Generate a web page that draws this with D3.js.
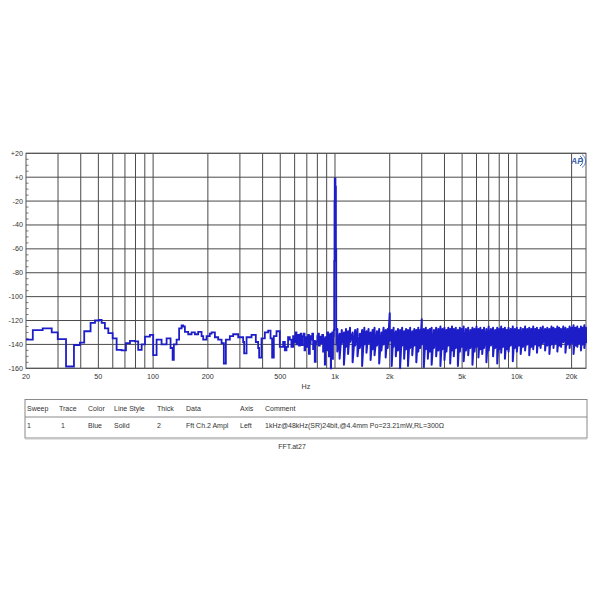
<!DOCTYPE html>
<html><head><meta charset="utf-8">
<script src="https://cdn.jsdelivr.net/npm/d3@7/dist/d3.min.js"></script>
<style>body{margin:0;background:#fff}svg{display:block}</style>
</head><body><svg id="c" width="600" height="600"></svg>
<script>
// ---- data ----
const yTicks = [20, 0, -20, -40, -60, -80, -100, -120, -140, -160];
const yTickLabels = ["+20", "+0", "-20", "-40", "-60", "-80", "-100", "-120", "-140", "-160"];
const yMinorTicks = [15,10,5,-5,-10,-15,-25,-30,-35,-45,-50,-55,-65,-70,-75,-85,-90,-95,-105,-110,-115,-125,-130,-135,-145,-150,-155];
const xLabelFreqs = [20, 50, 100, 200, 500, 1000, 2000, 5000, 10000, 20000];
const xLabels = ["20", "50", "100", "200", "500", "1k", "2k", "5k", "10k", "20k"];
const gridFreqs = [30,40,50,60,70,80,90,100,200,300,400,500,600,700,800,900,1000,2000,3000,4000,5000,6000,7000,8000,9000,10000,20000];

// low / mid band (stepped FFT bins): [Hz, dB]
const stepBins = [
  [20,-136],[21.8,-128],[24.7,-126.5],[27.7,-130],[29.9,-135.5],[33.2,-158.5],[36.7,-140.5],[39.6,-138.5],[41.8,-129],[45.3,-122],
  [47.9,-120],[50.5,-119.5],[52.1,-122],[54.3,-126.5],[56.7,-130.5],[59.9,-135],[63,-144.5],[67.1,-145],[70.9,-139],[74.6,-137],
  [79.4,-137.5],[82.8,-144.5],[86.5,-140],[90.2,-133.5],[96,-132],[100.1,-149],[104.5,-136],[111.3,-140],[118.6,-135],
  [124.7,-143],[128,-153],[130,-140],[134.6,-136],[139,-126.5],[143.4,-124],[146.3,-125],[149.5,-129.5],[155.9,-131.5],[162.7,-130],
  [169.7,-131.5],[176.9,-129.5],[184.7,-133],[188.5,-136],[196.8,-133],[205,-131],[209.6,-130],[218.6,-134],[227.9,-136],[237.9,-139],
  [244.8,-156],[251.2,-136],[264.2,-133],[275.4,-131.5],[293.6,-134],[312.6,-138],[316.6,-147.5],[326.4,-134],[347.6,-132],[367,-138],
  [378,-143],[382.8,-151],[394.4,-135],[411.4,-130],[429,-128.5],[442.2,-135],[451.2,-151],[461,-133],[477,-129],[497.2,-142],
  [518.6,-138],[530,-145],[541.2,-142],[552,-134],[564.4,-136],[576,-142],[588.4,-133],[595,-138],[601,-135],[608,-130],
  [614,-140],[620,-134],[627,-132],[634,-141],[641,-137],[647,-131],[654,-140.5],[664,-133],[674,-131],[680,-145],
  [685,-138],[691,-134],[697,-142],[704,-135],[711,-132],[719,-148],[727,-139],[735,-133],[743,-136],[750,-131],
  [758,-144],[766,-137],[774,-154.5],[783,-140],[791,-137.5],[800,-133],[808,-131],[816,-141],[825,-133.5],[833,-136],
  [842,-139],[851,-132],[860,-146],[870,-135],[879,-157],[885,-134],[890,-138],[898,-137.5],[903,-145],[907,-130],
  [916,-132],[921,-141],[926,-150],[931,-135],[936,-143],[942,-131],[948,-160],[952,-138],[957,-136],[962,-144],
  [966,-130],[970,-152],[975,-140],[980,-133],[985,-128],[990,-70],[994,-20],[997,-1],[1006,-8],[1012,-60],[1016,-128]
];

// dense band above 1 kHz: per display column, upper and lower excursion (dB)
const denseFreqs = [1020,1030,1060,1090,1120,1150,1180,1210,1250,1290,1330,1370,1410,1450,1490,1530,1570,1610,1650,1700,1750,1800,1850,1900,1950,2000,2050,2100,2160,2220,2280,2340,2400,2460,2520,2590,2660,2730,2800,2870,2940,3000,3080,3160,3240,3320,3400,3500,3600,3700,3800,3900,4000,4100,4200,4300,4400,4500,4620,4740,4860,4980,5100,5250,5400,5550,5700,5850,6000,6150,6300,6450,6600,6800,7000,7200,7400,7600,7800,8000,8200,8400,8600,8800,9000,9250,9500,9750,10000,10250,10500,10800,11100,11400,11700,12000,12300,12600,12900,13200,13500,13900,14300,14700,15100,15500,15900,16300,16700,17100,17500,18000,18500,19000,19500,20000,20500,21000,21500,22000,22500,23000,23500,24000];
const denseHigh = [-129,-127,-131,-128,-130,-127,-129,-126,-130,-128,-127,-131,-128,-126,-129,-127,-130,-128,-126,-129,-127,-130,-126,-128,-127,-114,-128,-126,-129,-127,-128,-126,-129,-127,-128,-126,-129,-127,-128,-126,-128,-119,-127,-126,-128,-127,-126,-128,-126,-127,-125,-127,-126,-128,-126,-127,-125,-127,-126,-128,-126,-127,-125,-127,-126,-128,-126,-127,-125,-127,-126,-128,-126,-127,-125,-127,-126,-128,-126,-127,-125,-127,-126,-128,-126,-127,-125,-127,-126,-128,-126,-127,-125,-127,-126,-127,-125,-127,-126,-128,-126,-125,-127,-126,-127,-125,-126,-127,-125,-126,-127,-125,-126,-127,-125,-126,-124,-126,-125,-127,-125,-126,-124,-126];
const denseLow = [-140,-146,-152,-139,-157,-142,-148,-138,-155,-141,-150,-143,-158,-140,-147,-139,-153,-144,-149,-141,-156,-145,-140,-151,-143,-137,-158,-142,-150,-145,-160,-141,-152,-144,-158,-143,-149,-141,-155,-146,-143,-140,-159,-144,-152,-146,-157,-143,-150,-145,-158,-144,-153,-146,-141,-156,-145,-150,-143,-158,-146,-142,-154,-145,-149,-143,-157,-146,-142,-151,-144,-148,-143,-155,-145,-141,-150,-143,-156,-144,-147,-142,-152,-144,-146,-141,-154,-143,-146,-141,-148,-142,-145,-140,-149,-142,-144,-140,-147,-141,-143,-139,-145,-141,-148,-140,-143,-139,-146,-141,-142,-138,-147,-140,-143,-139,-148,-141,-142,-139,-145,-140,-143,-139];

const tableHeaders = ["Sweep", "Trace", "Color", "Line Style", "Thick", "Data", "Axis", "Comment"];
const tableRow = ["1", "1", "Blue", "Solid", "2", "Fft Ch.2 Ampl", "Left", "1kHz@48kHz(SR)24bit,@4.4mm Po=23.21mW,RL=300Ω"];
const caption = "FFT.at27";
const axisTitle = "Hz";

// ---- layout ----
const L = 26, R = 586, T = 153.3, B = 368.3;
const svg = d3.select("#c");
const x = d3.scaleLog().domain([20, 24000]).range([L, R]);
const y = d3.scaleLinear().domain([-160, 20]).range([B, T]);
const font = "Liberation Sans, Arial, sans-serif";
const gridCol = "#4a4a4a";

const g = svg.append("g");
g.selectAll("line.h").data(yTicks).join("line")
  .attr("x1", L).attr("x2", R).attr("y1", d => y(d)).attr("y2", d => y(d))
  .attr("stroke", gridCol).attr("stroke-width", 1);
g.selectAll("line.v").data(gridFreqs).join("line")
  .attr("y1", T).attr("y2", B).attr("x1", d => x(d)).attr("x2", d => x(d))
  .attr("stroke", gridCol).attr("stroke-width", 1);
g.append("rect").attr("x", L).attr("y", T).attr("width", R - L).attr("height", B - T)
  .attr("fill", "none").attr("stroke", "#555").attr("stroke-width", 1);
g.selectAll("line.m").data(yMinorTicks).join("line")
  .attr("x1", L).attr("x2", L + 2.5).attr("y1", d => y(d)).attr("y2", d => y(d))
  .attr("stroke", "#555").attr("stroke-width", 0.8);

g.selectAll("text.yl").data(yTicks).join("text")
  .attr("x", L - 3).attr("y", d => y(d) + 2.5).attr("text-anchor", "end")
  .attr("font-family", font).attr("font-size", 7.2).attr("fill", "#333")
  .text((d, i) => yTickLabels[i]);
g.selectAll("text.xl").data(xLabelFreqs).join("text")
  .attr("x", d => x(d)).attr("y", B + 11).attr("text-anchor", "middle")
  .attr("font-family", font).attr("font-size", 7.2).attr("fill", "#333")
  .text((d, i) => xLabels[i]);
g.append("text").attr("x", (L + R) / 2).attr("y", B + 21).attr("text-anchor", "middle")
  .attr("font-family", font).attr("font-size", 7.2).attr("fill", "#333").text(axisTitle);

// trace
const blue = "#1e1ec8";
svg.append("path").datum(stepBins)
  .attr("d", d3.line().x(d => x(d[0])).y(d => y(d[1])).curve(d3.curveStepAfter))
  .attr("fill", "none").attr("stroke", blue).attr("stroke-width", 1.8).attr("stroke-linejoin", "miter");
const denseData = [stepBins[stepBins.length - 1]];
denseFreqs.forEach((f, i) => { denseData.push([f, denseHigh[i]]); denseData.push([f, denseLow[i]]); });
svg.append("path").datum(denseData)
  .attr("d", d3.line().x(d => x(d[0])).y(d => y(d[1])).curve(d3.curveLinear))
  .attr("fill", "none").attr("stroke", blue).attr("stroke-width", 2).attr("stroke-linejoin", "round");

// AP logo
const lg = svg.append("g").attr("transform", "translate(577,161)");
lg.append("text").attr("x", 0).attr("y", 3).attr("text-anchor", "middle")
  .attr("font-family", font).attr("font-size", 8.5).attr("font-style", "italic").attr("font-weight", "bold")
  .attr("fill", "#3b63b0").text("AP");
lg.append("path").attr("d", "M3,-5 A6,6 0 0 1 3,5").attr("fill", "none").attr("stroke", "#3b63b0").attr("stroke-width", 1);
lg.append("path").attr("d", "M5,-6.5 A7.5,7.5 0 0 1 5,6.5").attr("fill", "none").attr("stroke", "#3b63b0").attr("stroke-width", 0.8);

// table
const tL = 25, tR = 587, tT = 399.5, tM = 417, tB = 438;
const colX = [27, 59, 88, 114, 157, 186, 240, 265];
svg.append("rect").attr("x", tL).attr("y", tT).attr("width", tR - tL).attr("height", tB - tT)
  .attr("fill", "none").attr("stroke", "#8a8a8a").attr("stroke-width", 1);
svg.append("line").attr("x1", tL).attr("x2", tR).attr("y1", tM).attr("y2", tM)
  .attr("stroke", "#8a8a8a").attr("stroke-width", 1);
svg.append("line").attr("x1", tL).attr("x2", tR).attr("y1", tB + 1).attr("y2", tB + 1)
  .attr("stroke", "#c8c8c8").attr("stroke-width", 1);
svg.selectAll("text.th").data(tableHeaders).join("text")
  .attr("x", (d, i) => colX[i]).attr("y", 411)
  .attr("font-family", font).attr("font-size", 7).attr("fill", "#333").text(d => d);
svg.selectAll("text.tr").data(tableRow).join("text")
  .attr("x", (d, i) => colX[i] + (i === 1 ? 2 : 0)).attr("y", 427.5)
  .attr("font-family", font).attr("font-size", 7).attr("fill", "#333").text(d => d);
svg.append("text").attr("x", 292).attr("y", 449).attr("text-anchor", "middle")
  .attr("font-family", font).attr("font-size", 7).attr("fill", "#333").text(caption);
</script></body></html>
